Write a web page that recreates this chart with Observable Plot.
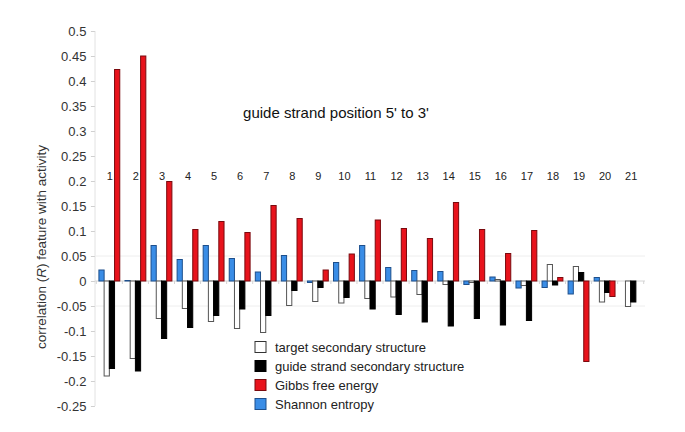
<!DOCTYPE html>
<html><head><meta charset="utf-8">
<script src="https://cdn.jsdelivr.net/npm/d3@7"></script>
<script src="https://cdn.jsdelivr.net/npm/@observablehq/plot@0.6"></script>
<style>body{margin:0;background:#fff}</style>
</head><body><div id="chart"></div>
<script>
// guide strand positions (tick labels)
const positions = [1,2,3,4,5,6,7,8,9,10,11,12,13,14,15,16,17,18,19,20,21];
// series values (correlation R)
const shannon = [0.022,0.001,0.071,0.043,0.071,0.045,0.018,0.051,-0.003,0.037,0.071,0.027,0.021,0.019,-0.007,0.008,-0.014,-0.013,-0.026,0.007,0];
const target  = [-0.19,-0.155,-0.075,-0.055,-0.081,-0.095,-0.103,-0.049,-0.041,-0.044,-0.035,-0.032,-0.027,-0.007,-0.003,0.003,-0.009,0.033,0.029,-0.042,-0.051];
const guide   = [-0.175,-0.18,-0.115,-0.093,-0.069,-0.056,-0.069,-0.019,-0.013,-0.033,-0.056,-0.067,-0.082,-0.09,-0.075,-0.088,-0.079,-0.008,0.017,-0.023,-0.042];
const gibbs   = [0.423,0.45,0.199,0.103,0.119,0.097,0.151,0.125,0.022,0.054,0.122,0.105,0.085,0.157,0.103,0.055,0.101,0.007,-0.161,-0.031,0];
const yTicks = [-0.25,-0.2,-0.15,-0.1,-0.05,0,0.05,0.1,0.15,0.2,0.25,0.3,0.35,0.4,0.45,0.5];
const seriesOrder = ["shannon","target","guide","gibbs"];
const legendOrder = ["target","guide","gibbs","shannon"];
const seriesLabels = {
  target: "target secondary structure",
  guide: "guide strand secondary structure",
  gibbs: "Gibbs free energy",
  shannon: "Shannon entropy"
};
const chartTitle = "guide strand position 5' to 3'";

const valuesBySeries = {shannon, target, guide, gibbs};
const table = [];
positions.forEach((p, i) => {
  for (const s of seriesOrder) table.push({pos: p, series: s, value: valuesBySeries[s][i]});
});

const styles = {
  shannon: {fill: "#3a8de6", stroke: "#1d4f8c"},
  target:  {fill: "#ffffff", stroke: "#555555"},
  guide:   {fill: "#000000", stroke: "#000000"},
  gibbs:   {fill: "#e8131c", stroke: "#7a0a0e"}
};

const FONT = "'Liberation Sans', Arial, Helvetica, sans-serif";

const plot = Plot.plot({
  width: 685, height: 432,
  marginLeft: 95, marginRight: 40, marginTop: 31, marginBottom: 26,
  style: {fontFamily: FONT, background: "#fff", color: "#333"},
  fx: {domain: positions, paddingInner: 0.2, paddingOuter: 0.15, round: false, axis: null, label: null},
  x: {domain: seriesOrder, padding: 0, round: false, axis: null},
  y: {domain: [-0.25, 0.5], axis: null},
  marks: [
    Plot.axisY({anchor: "left", ticks: yTicks, tickFormat: d => String(+d.toFixed(2)),
      tickSize: 4, tickPadding: 5, stroke: "#d0d0d0", fill: "#333", fontSize: 13, label: null, dx: -4}),
    ...seriesOrder.map(s => Plot.barY(table.filter(d => d.series === s), {
      fx: "pos", x: "series", y: "value",
      fill: styles[s].fill, stroke: styles[s].stroke, strokeWidth: 1
    })),
    Plot.text(positions, {fx: d => d, text: d => String(d), frameAnchor: "top", dy: 141,
      fontSize: 11, fill: "#222"})
  ]
});

document.getElementById("chart").appendChild(plot);

// decorations drawn with the plot's own scales
const svg = d3.select(plot);
const y = plot.scale("y");
const fx = plot.scale("fx");
const X0 = 95, X1 = 645;
const deco = svg.insert("g", "g");
deco.append("line").attr("x1", X0).attr("x2", X0)
  .attr("y1", y.apply(0.5)).attr("y2", y.apply(-0.25)).attr("stroke", "#e2e2e2");
for (const v of [0.05, -0.05]) {
  deco.append("line").attr("x1", X0).attr("x2", X1)
    .attr("y1", y.apply(v)).attr("y2", y.apply(v)).attr("stroke", "#eeeeee");
}
const y0 = y.apply(0);
deco.append("line").attr("x1", X0).attr("x2", X1)
  .attr("y1", y0).attr("y2", y0).attr("stroke", "#d4d4d4");
if (fx && fx.step && fx.bandwidth) {
  const gap = (fx.step - fx.bandwidth) / 2;
  const bounds = positions.map(p => fx.apply(p) - gap);
  bounds.push(fx.apply(positions[positions.length - 1]) + fx.bandwidth + gap);
  for (const bx of bounds) {
    deco.append("line").attr("x1", bx).attr("x2", bx)
      .attr("y1", y0).attr("y2", y0 + 3).attr("stroke", "#d4d4d4");
  }
}

// title inside plot
svg.append("text").attr("x", 336).attr("y", 113).attr("text-anchor", "middle")
  .attr("dy", "0.35em").attr("font-family", FONT).attr("font-size", 15).attr("fill", "#111")
  .text(chartTitle);

// y axis title with italic R
const yt = svg.append("text").attr("transform", "translate(41,247) rotate(-90)")
  .attr("text-anchor", "middle").attr("dy", "0.35em")
  .attr("font-family", FONT).attr("font-size", 13.5).attr("fill", "#333");
yt.append("tspan").text("correlation (");
yt.append("tspan").attr("font-style", "italic").text("R");
yt.append("tspan").text(") feature with activity");

// legend
const lg = svg.append("g").attr("font-family", FONT).attr("font-size", 13)
  .attr("fill", "#222").attr("text-anchor", "start");
legendOrder.forEach((s, i) => {
  const ry = 347 + i * 19;
  lg.append("rect").attr("x", 255).attr("y", ry - 5.5).attr("width", 11).attr("height", 11)
    .attr("fill", styles[s].fill).attr("stroke", s === "target" ? "#333" : styles[s].stroke);
  lg.append("text").attr("x", 275).attr("y", ry).attr("dy", "0.35em")
    .attr("text-anchor", "start").text(seriesLabels[s]);
});
</script>
</body></html>
